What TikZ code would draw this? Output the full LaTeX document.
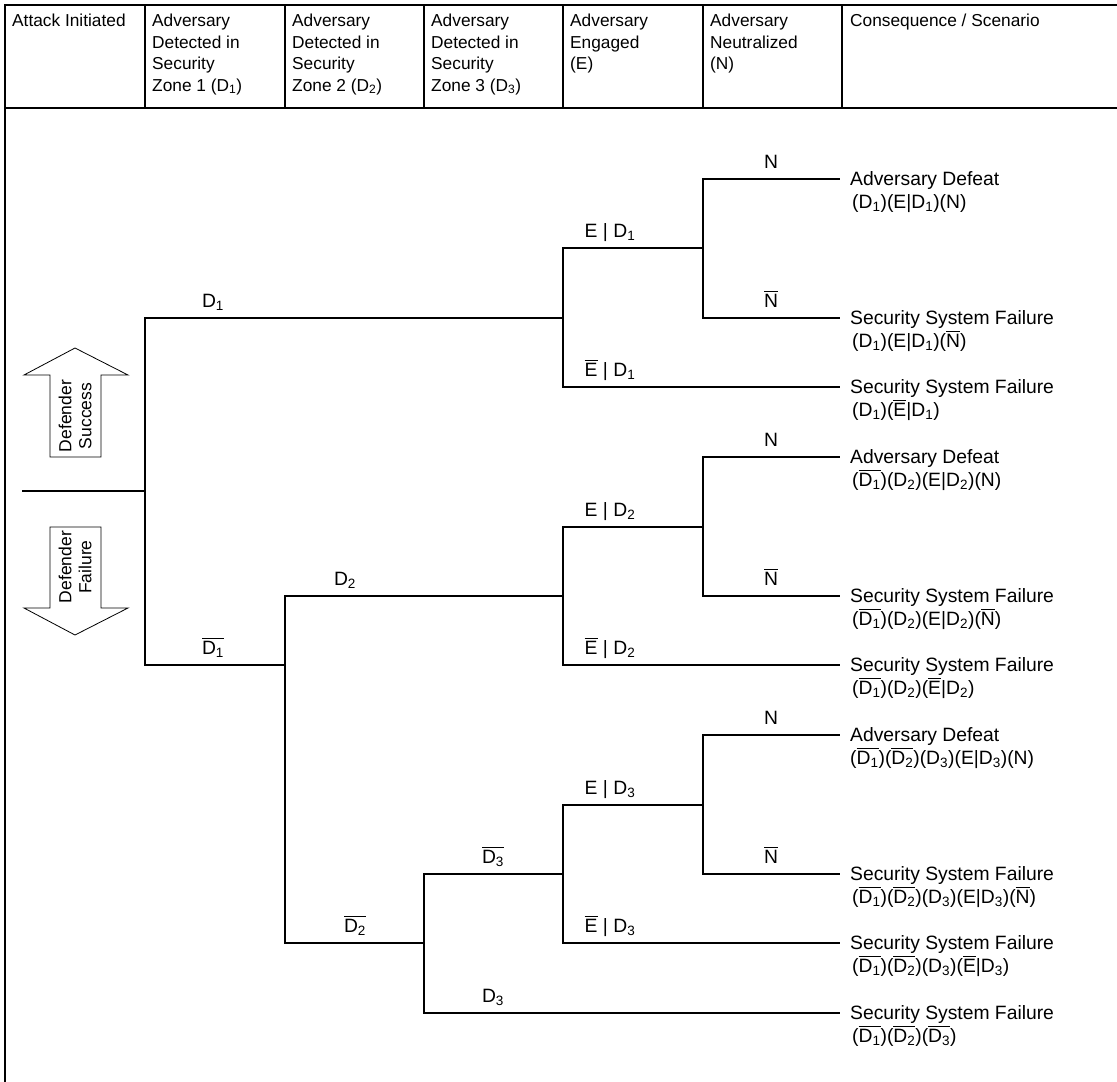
\documentclass[tikz,border=0pt]{standalone}
\usepackage{fontspec}
\setmainfont{Liberation Sans}
\newcommand{\sbs}[1]{\textsubscript{#1}}
\newcommand{\ob}[1]{\vbox{\hrule height 1.1pt\kern 1.8pt\hbox{#1}}}
\begin{document}
\begin{tikzpicture}[x=1pt,y=-1pt,
  frame/.style={line width=1.5pt, draw=black},
  br/.style={line width=1.2pt, draw=black},
  hdr/.style={anchor=north west, inner sep=0pt, align=left, font=\fontsize{17.3}{21.5}\selectfont},
  lbl/.style={anchor=base, inner sep=0pt, font=\fontsize{19.3}{22}\selectfont},
  cons/.style={anchor=base west, inner sep=0pt, font=\fontsize{19.3}{22}\selectfont},
  bigarrow/.style={draw=black, line width=0.8pt, fill=white},
  arrtext/.style={rotate=90, align=center, inner sep=0pt, font=\fontsize{17.5}{20}\selectfont}]
\useasboundingbox (0,0) rectangle (1117,1082);
% table frame
\draw[frame] (1117,5) -- (5,5) -- (5,1082);
\draw[frame] (5,108) -- (1117,108);
\foreach \x in {145,285,424,563,703,842} \draw[frame] (\x,5) -- (\x,108);
% header
\node[hdr] (h0) at (12,14) {Attack Initiated};
\node[hdr] (h1) at (152,14) {Adversary\\Detected in\\Security\\Zone 1 (D\sbs{1})};
\node[hdr] (h2) at (292,14) {Adversary\\Detected in\\Security\\Zone 2 (D\sbs{2})};
\node[hdr] (h3) at (431,14) {Adversary\\Detected in\\Security\\Zone 3 (D\sbs{3})};
\node[hdr] (h4) at (570,14) {Adversary\\Engaged\\(E)};
\node[hdr] (h5) at (710,14) {Adversary\\Neutralized\\(N)};
\node[hdr] (h6) at (850,14) {Consequence / Scenario};
% big arrows
\draw[bigarrow] (75,348) -- (128,375) -- (101,375) -- (101,457) -- (50,457) -- (50,375) -- (24,375) -- cycle;
\node[arrtext] (succ) at (75,416) {Defender\\Success};
\draw[bigarrow] (50,527) -- (101,527) -- (101,608) -- (128,608) -- (75,635) -- (24,608) -- (50,608) -- cycle;
\node[arrtext] (fail) at (75,567) {Defender\\Failure};
% tree points
\coordinate (r0) at (22,491);
\coordinate (jA) at (145,491);
\coordinate (jB) at (563,318);
\coordinate (jC) at (703,248);
\coordinate (jD) at (285,665);
\coordinate (jE) at (563,596);
\coordinate (jF) at (703,527);
\coordinate (jG) at (424,943);
\coordinate (jH) at (563,874);
\coordinate (jI) at (703,805);
\coordinate (e1) at (840,179);
\coordinate (e2) at (840,318);
\coordinate (e3) at (840,387);
\coordinate (e4) at (840,457);
\coordinate (e5) at (840,596);
\coordinate (e6) at (840,665);
\coordinate (e7) at (840,735);
\coordinate (e8) at (840,874);
\coordinate (e9) at (840,943);
\coordinate (e10) at (840,1013);
% tree branches
\draw[br] (r0) -- (jA);
\draw[br] (jA) |- (jB);
\draw[br] (jA) |- (jD);
\draw[br] (jB) |- (jC);
\draw[br] (jB) |- (e3);
\draw[br] (jC) |- (e1);
\draw[br] (jC) |- (e2);
\draw[br] (jD) |- (jE);
\draw[br] (jD) |- (jG);
\draw[br] (jE) |- (jF);
\draw[br] (jE) |- (e6);
\draw[br] (jF) |- (e4);
\draw[br] (jF) |- (e5);
\draw[br] (jG) |- (jH);
\draw[br] (jG) |- (e10);
\draw[br] (jH) |- (jI);
\draw[br] (jH) |- (e9);
\draw[br] (jI) |- (e7);
\draw[br] (jI) |- (e8);
% branch labels
\node[lbl] (lD1) at (213,307) {D\sbs{1}};
\node[lbl] (lD1n) at (213,654) {\ob{D\sbs{1}}};
\node[lbl] (lD2) at (345,585) {D\sbs{2}};
\node[lbl] (lD2n) at (355,932) {\ob{D\sbs{2}}};
\node[lbl] (lD3n) at (493,863) {\ob{D\sbs{3}}};
\node[lbl] (lD3) at (493,1002) {D\sbs{3}};
\node[lbl] (lE1) at (610,237) {E | D\sbs{1}};
\node[lbl] (lE1n) at (610,376) {\ob{E} | D\sbs{1}};
\node[lbl] (lE2) at (610,516) {E | D\sbs{2}};
\node[lbl] (lE2n) at (610,654) {\ob{E} | D\sbs{2}};
\node[lbl] (lE3) at (610,794) {E | D\sbs{3}};
\node[lbl] (lE3n) at (610,932) {\ob{E} | D\sbs{3}};
\node[lbl] (lN1) at (771,168) {N};
\node[lbl] (lN1n) at (771,307) {\ob{N}};
\node[lbl] (lN2) at (771,446) {N};
\node[lbl] (lN2n) at (771,585) {\ob{N}};
\node[lbl] (lN3) at (771,724) {N};
\node[lbl] (lN3n) at (771,863) {\ob{N}};
% consequences
\node[cons] (c1a) at (850,185) {Adversary Defeat};
\node[cons] (c1b) at (852,208) {(D\sbs{1})(E|D\sbs{1})(N)};
\node[cons] (c2a) at (850,324) {Security System Failure};
\node[cons] (c2b) at (852,347) {(D\sbs{1})(E|D\sbs{1})(\ob{N})};
\node[cons] (c3a) at (850,393) {Security System Failure};
\node[cons] (c3b) at (852,416) {(D\sbs{1})(\ob{E}|D\sbs{1})};
\node[cons] (c4a) at (850,463) {Adversary Defeat};
\node[cons] (c4b) at (852,486) {(\ob{D\sbs{1}})(D\sbs{2})(E|D\sbs{2})(N)};
\node[cons] (c5a) at (850,602) {Security System Failure};
\node[cons] (c5b) at (852,625) {(\ob{D\sbs{1}})(D\sbs{2})(E|D\sbs{2})(\ob{N})};
\node[cons] (c6a) at (850,671) {Security System Failure};
\node[cons] (c6b) at (852,694) {(\ob{D\sbs{1}})(D\sbs{2})(\ob{E}|D\sbs{2})};
\node[cons] (c7a) at (850,741) {Adversary Defeat};
\node[cons] (c7b) at (850,764) {(\ob{D\sbs{1}})(\ob{D\sbs{2}})(D\sbs{3})(E|D\sbs{3})(N)};
\node[cons] (c8a) at (850,880) {Security System Failure};
\node[cons] (c8b) at (852,903) {(\ob{D\sbs{1}})(\ob{D\sbs{2}})(D\sbs{3})(E|D\sbs{3})(\ob{N})};
\node[cons] (c9a) at (850,949) {Security System Failure};
\node[cons] (c9b) at (852,972) {(\ob{D\sbs{1}})(\ob{D\sbs{2}})(D\sbs{3})(\ob{E}|D\sbs{3})};
\node[cons] (c10a) at (850,1019) {Security System Failure};
\node[cons] (c10b) at (852,1042) {(\ob{D\sbs{1}})(\ob{D\sbs{2}})(\ob{D\sbs{3}})};
\end{tikzpicture}
\end{document}
